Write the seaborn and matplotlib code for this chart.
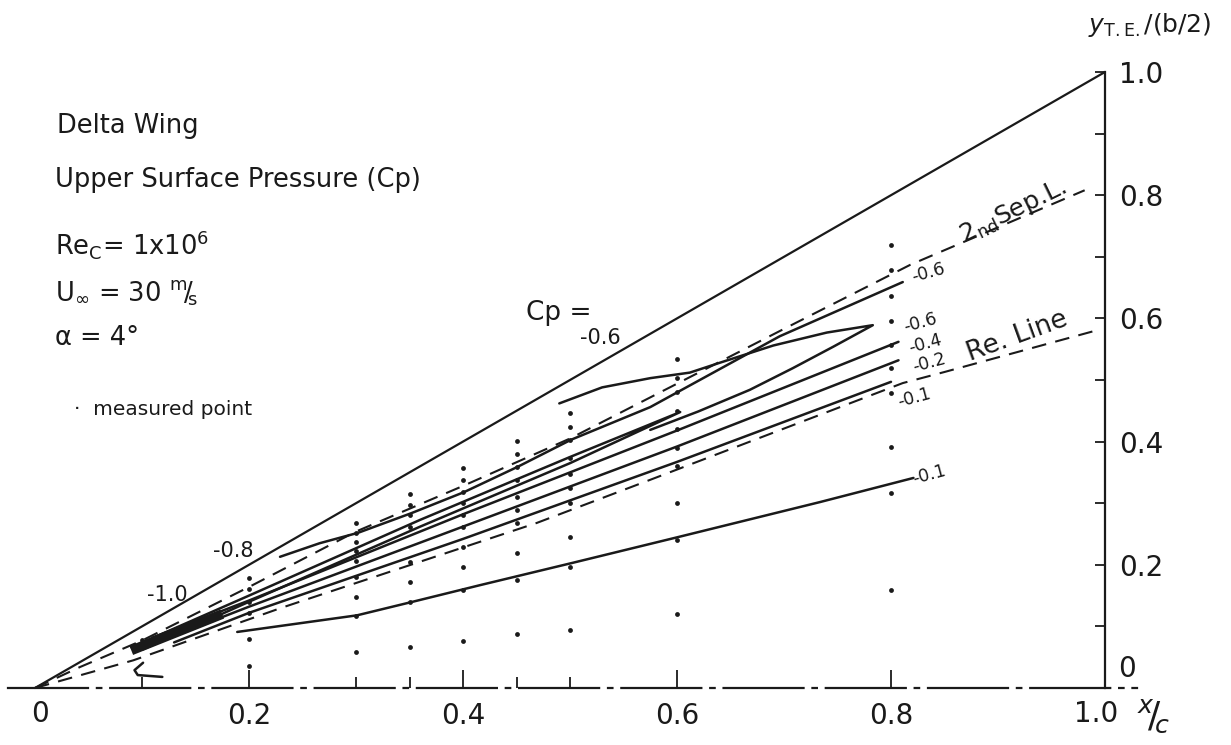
import matplotlib
matplotlib.use("Agg")
import matplotlib.pyplot as plt
import seaborn as sns
import numpy as np

# measured points, one list of y per chordwise station
pt_x = [0.1, 0.2, 0.3, 0.35, 0.4, 0.45, 0.5, 0.6, 0.8]
pt_y = [
    [0.078],
    [0.179, 0.161, 0.140, 0.122, 0.080, 0.036],
    [0.268, 0.252, 0.237, 0.222, 0.206, 0.180, 0.148, 0.117, 0.058],
    [0.315, 0.297, 0.281, 0.261, 0.205, 0.172, 0.140, 0.067],
    [0.357, 0.338, 0.318, 0.300, 0.281, 0.261, 0.229, 0.196, 0.159, 0.076],
    [0.401, 0.380, 0.359, 0.338, 0.310, 0.289, 0.268, 0.219, 0.175, 0.088],
    [0.446, 0.424, 0.403, 0.373, 0.347, 0.325, 0.300, 0.245, 0.196, 0.094],
    [0.534, 0.504, 0.480, 0.450, 0.420, 0.390, 0.360, 0.300, 0.240, 0.120],
    [0.719, 0.679, 0.636, 0.596, 0.557, 0.519, 0.479, 0.391, 0.317, 0.159],
]

# leading edge
le_x = [0.0, 1.0]
le_y = [0.0, 1.0]

# dashed lines
sep_x = [0.0, 0.042, 0.1, 0.2, 0.3, 0.4, 0.5, 0.6, 0.7, 0.818, 0.981]
sep_y = [0.0, 0.034, 0.077, 0.164, 0.254, 0.328, 0.405, 0.494, 0.583, 0.687, 0.808]
re_x = [0.0, 0.092, 0.23, 0.469, 0.575, 0.811, 0.85, 0.993]
re_y = [0.0, 0.045, 0.13, 0.268, 0.338, 0.495, 0.513, 0.581]

# Cp contours (solid)
contours = {
    "c08": ([0.229, 0.266, 0.302, 0.352, 0.401, 0.451, 0.501, 0.575, 0.696, 0.811],
            [0.213, 0.235, 0.252, 0.284, 0.318, 0.359, 0.403, 0.456, 0.571, 0.659]),
    "lens_up": ([0.49, 0.53, 0.575, 0.612, 0.64, 0.69, 0.74, 0.783, 0.746, 0.708, 0.668, 0.62, 0.575],
                [0.462, 0.488, 0.503, 0.512, 0.528, 0.556, 0.577, 0.589, 0.554, 0.519, 0.484, 0.449, 0.419]),
    "lens_in": ([0.09, 0.2, 0.36, 0.5, 0.603, 0.5, 0.36, 0.2, 0.1],
                [0.066, 0.15, 0.273, 0.375, 0.448, 0.365, 0.262, 0.14, 0.062]),
    "c04": ([0.11, 0.2, 0.4, 0.6, 0.807],
            [0.082, 0.142, 0.282, 0.418, 0.562]),
    "c02": ([0.12, 0.2, 0.4, 0.6, 0.807],
            [0.078, 0.132, 0.262, 0.392, 0.532]),
    "c01": ([0.13, 0.2, 0.4, 0.6, 0.8],
            [0.074, 0.122, 0.242, 0.367, 0.497]),
    "c01_low": ([0.189, 0.301, 0.353, 0.416, 0.502, 0.601, 0.734, 0.821],
                [0.091, 0.118, 0.140, 0.167, 0.203, 0.245, 0.302, 0.341]),
    "hook": ([0.101, 0.093, 0.096, 0.119],
             [0.041, 0.029, 0.021, 0.018]),
}
band_x = [0.09, 0.175]
band_y = [0.061, 0.120]

sns.set_theme(style="white")
plt.rcParams["font.family"] = ["DejaVu Sans"]
plt.rcParams["mathtext.fontset"] = "dejavusans"
plt.rcParams["text.color"] = "k"
plt.rcParams["xtick.color"] = "k"
plt.rcParams["ytick.color"] = "k"

fig = plt.figure(figsize=(12.31, 7.45), dpi=100)
ax = fig.add_axes([0, 0, 1, 1])
ax.set_xlim(-35 / 1070, 1196 / 1070)
ax.set_ylim(-57 / 616, 688 / 616)

ax.plot(le_x, le_y, color="k", lw=1.6)
ax.plot(sep_x, sep_y, color="k", lw=1.5, ls=(0, (7, 4.5)))
ax.plot(re_x, re_y, color="k", lw=1.5, ls=(0, (7, 4.5)))
for name, (cx, cy) in contours.items():
    sns.lineplot(x=cx, y=cy, sort=False, estimator=None, color="k", lw=1.8, ax=ax)
ax.plot(band_x, band_y, color="k", lw=7, solid_capstyle="butt")

px, py = [], []
for x, ys in zip(pt_x, pt_y):
    px += [x] * len(ys)
    py += ys
sns.scatterplot(x=px, y=py, color="k", s=12, linewidth=0, ax=ax)

# axes: right spine at x/c = 1, dash-dot centre line at y = 0
for s in ["top", "left"]:
    ax.spines[s].set_visible(False)
ax.spines["right"].set_position(("data", 1.0))
ax.spines["right"].set_bounds(0, 1)
ax.spines["right"].set_linewidth(1.6)
ax.spines["right"].set_color("k")
ax.spines["bottom"].set_position(("data", 0.0))
ax.spines["bottom"].set_bounds(-0.025, 1.03)
ax.spines["bottom"].set_linewidth(1.6)
ax.spines["bottom"].set_color("k")
ax.spines["bottom"].set_linestyle((0, (36, 4, 2, 4)))

ax.yaxis.set_ticks_position("right")
ax.set_yticks([0.2, 0.4, 0.6, 0.8, 1.0], labels=["0.2", "0.4", "0.6", "0.8", "1.0"])
ax.set_yticks([0.1, 0.3, 0.5, 0.7, 0.9], minor=True)
ax.tick_params(axis="y", which="both", direction="in", length=7, width=1.3,
               color="k", labelsize=20, pad=10)
ax.xaxis.set_ticks_position("bottom")
ax.set_xticks([0.2, 0.4, 0.6, 0.8], labels=["0.2", "0.4", "0.6", "0.8"])
ax.set_xticks([0.1, 0.3, 0.35, 0.45, 0.5], minor=True)
ax.tick_params(axis="x", which="major", direction="in", length=13, width=1.3,
               color="k", labelsize=20, pad=10)
ax.tick_params(axis="x", which="minor", direction="in", length=8, width=1.3, color="k")
ax.text(0.005, -0.02, "0", fontsize=20, ha="center", va="top")
ax.text(0.992, -0.02, "1.0", fontsize=20, ha="center", va="top")
ax.text(1.045, -0.015, r"$^{x}\!/\!_{c}$", fontsize=26, ha="center", va="top")
ax.text(1.012, 0.008, "0", fontsize=20, ha="left", va="bottom")
ax.text(1.042, 1.076, r"$y_{\rm T.E.}$/(b/2)", fontsize=18, ha="center", va="center")

# block of text
ax.text(0.021, 0.901, "Delta Wing", fontsize=18.5)
ax.text(0.019, 0.813, "Upper Surface Pressure (Cp)", fontsize=18.5)
ax.text(0.019, 0.703, r"Re$_{\rm C}$= 1x10$^{6}$", fontsize=18.5)
ax.text(0.019, 0.627, r"U$_{\infty}$ = 30 $^{\rm m}\!/\!_{\rm s}$", fontsize=18.5)
ax.text(0.019, 0.557, "α = 4°", fontsize=18.5)
ax.text(0.036, 0.443, "·  measured point", fontsize=14.5)

# contour labels
ax.text(0.459, 0.597, "Cp =", fontsize=19)
ax.text(0.528, 0.568, "-0.6", fontsize=15, ha="center", va="center")
ax.text(0.185, 0.222, "-0.8", fontsize=15, ha="center", va="center")
ax.text(0.124, 0.151, "-1.0", fontsize=15, ha="center", va="center")
for lx, ly, lab in [(0.835, 0.674, "-0.6"), (0.827, 0.593, "-0.6"), (0.832, 0.558, "-0.4"),
                    (0.836, 0.528, "-0.2"), (0.822, 0.471, "-0.1"), (0.836, 0.346, "-0.1")]:
    ax.text(lx, ly, lab, fontsize=12.5, ha="center", va="center", rotation=15)
ax.text(0.918, 0.570, "Re. Line", fontsize=19, ha="center", va="center", rotation=20)
ax.text(0.914, 0.773, r"$2_{\rm nd}$Sep.L.", fontsize=18, ha="center", va="center", rotation=26)

fig.savefig("out.png", dpi=100, facecolor="white")
